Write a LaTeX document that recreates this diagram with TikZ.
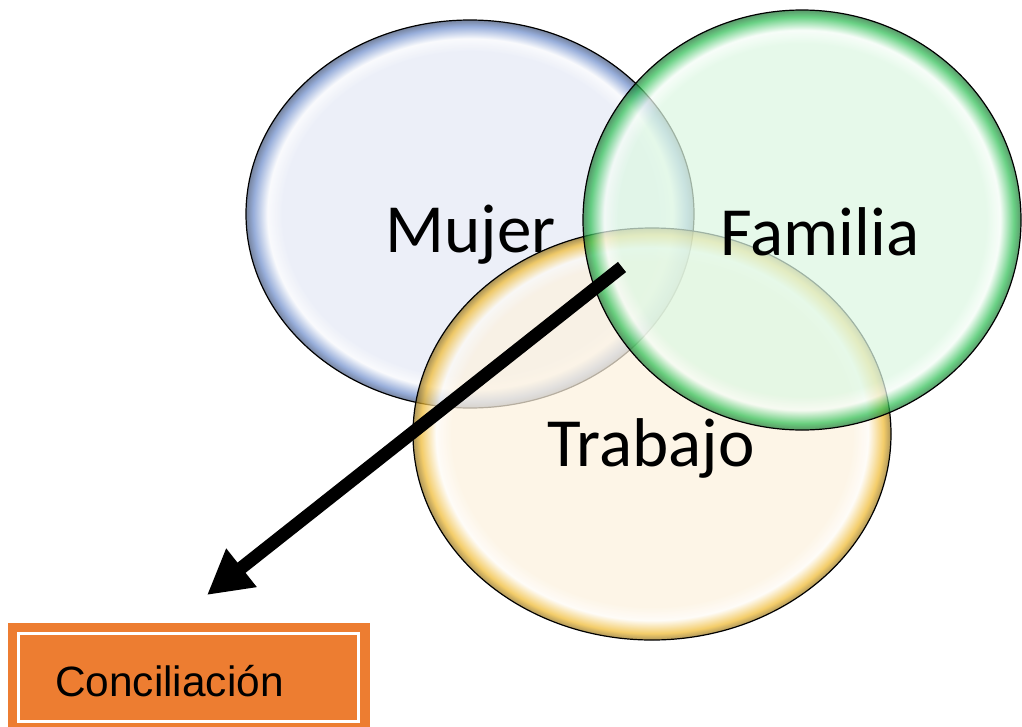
\documentclass[tikz,border=0pt]{standalone}
\usepackage{fontspec}
\setmainfont{Carlito}
\newfontfamily\arialfont{Liberation Sans}
\usetikzlibrary{shapes.geometric,arrows.meta}
\definecolor{bfill}{HTML}{E6EAF6}
\definecolor{bedge}{HTML}{6F8ECC}
\definecolor{gfill}{HTML}{DDF8E3}
\definecolor{gedge}{HTML}{2FC055}
\definecolor{yfill}{HTML}{FDF2DF}
\definecolor{yedge}{HTML}{F0BA30}
\definecolor{orng}{HTML}{ED7D31}
\pgfdeclareradialshading{blueglass}{\pgfpoint{0bp}{0bp}}{color(0bp)=(bfill); color(21bp)=(bfill); color(22.6bp)=(white!70!bfill); color(24.2bp)=(bedge); color(25bp)=(bedge!60!black); color(50bp)=(bedge)}
\pgfdeclareradialshading{greenglass}{\pgfpoint{0bp}{0bp}}{color(0bp)=(gfill); color(21bp)=(gfill); color(22.6bp)=(white!70!gfill); color(24.2bp)=(gedge); color(25bp)=(gedge!60!black); color(50bp)=(gedge)}
\pgfdeclareradialshading{yellowglass}{\pgfpoint{0bp}{0bp}}{color(0bp)=(yfill); color(21bp)=(yfill); color(22.6bp)=(white!70!yfill); color(24.2bp)=(yedge); color(25bp)=(yedge!60!black); color(50bp)=(yedge)}
\tikzset{
  bubble/.style={ellipse, inner sep=0pt, draw=black, line width=1.2pt, fill opacity=0.72},
  biglabel/.style={anchor=base, font=\fontsize{69}{82}\selectfont, text=black, inner sep=0pt},
  bigarrow/.style={line width=13pt, -{Triangle[length=44pt,width=46pt]}},
}
\begin{document}
\begin{tikzpicture}[x=1pt,y=-1pt]
\useasboundingbox[fill=white] (0,0) rectangle (1022,726);
% bubbles
\node[bubble, shading=blueglass, minimum width=448pt, minimum height=388pt] (mujer) at (470,214) {};
\node[bubble, shading=yellowglass, minimum width=478pt, minimum height=412pt] (trabajo) at (652,434) {};
\node[bubble, shading=greenglass, minimum width=438pt, minimum height=420pt] (familia) at (802,220) {};
% labels
\node[biglabel] (tm) at (470.5,252) {Mujer};
\node[biglabel] (tf) at (820,255) {Familia};
\node[biglabel] (tt) at (651,466) {Trabajo};
% arrow
\coordinate (astart) at (622,267);
\coordinate (aend) at (207,595);
\draw[bigarrow] (astart) -- (aend);
% box
\node[rectangle, fill=orng, inner sep=0pt, minimum width=362pt, minimum height=110pt] (box) at (189,678) {};
\draw[white, line width=3pt] (18.5,633.5) rectangle (358.5,721);
\node[anchor=base west, inner sep=0pt, font=\arialfont\fontsize{42.4}{50}\selectfont, text=black] (conc) at (55,696) {Conciliación};
\end{tikzpicture}
\end{document}
